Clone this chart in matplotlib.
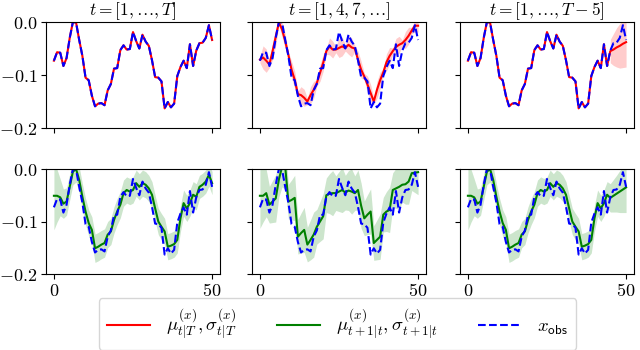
import matplotlib
matplotlib.use("Agg")
import matplotlib.pyplot as plt
from matplotlib.ticker import FuncFormatter
from matplotlib.lines import Line2D
import numpy as np

plt.rcParams['mathtext.fontset'] = 'cm'
plt.rcParams['font.family'] = ['DejaVu Serif']

# ---- data ----
t_index = list(range(51))

x_obs = [-0.073, -0.057, -0.058, -0.083, -0.068, -0.030, 0.0, -0.001, -0.034, -0.064,
         -0.105, -0.110, -0.139, -0.159, -0.154, -0.153, -0.157, -0.129, -0.117, -0.088,
         -0.087, -0.053, -0.044, -0.052, -0.051, -0.019, -0.036, -0.050, -0.024, -0.037,
         -0.045, -0.072, -0.104, -0.105, -0.112, -0.163, -0.151, -0.161, -0.154, -0.102,
         -0.085, -0.073, -0.087, -0.042, -0.083, -0.054, -0.040, -0.039, -0.030, -0.006,
         -0.034]

# smoothed mean, all observed (identical to observations)
smooth_all_mean = x_obs

# smoothed mean / std, every third step observed
smooth_sparse_mean = [-0.071, -0.067, -0.073, -0.080, -0.055, -0.028, -0.001, -0.014, -0.036, -0.062,
                      -0.090, -0.109, -0.136, -0.138, -0.143, -0.150, -0.138, -0.128, -0.115, -0.096,
                      -0.077, -0.055, -0.046, -0.052, -0.052, -0.049, -0.046, -0.049, -0.043, -0.048,
                      -0.050, -0.071, -0.090, -0.103, -0.118, -0.134, -0.150, -0.128, -0.110, -0.095,
                      -0.076, -0.064, -0.055, -0.047, -0.043, -0.040, -0.034, -0.026, -0.016, -0.007,
                      -0.007]
smooth_sparse_std = [0.006, 0.022, 0.022, 0.006, 0.016, 0.016, 0.005, 0.014, 0.014, 0.006,
                     0.016, 0.016, 0.006, 0.016, 0.016, 0.006, 0.016, 0.016, 0.006, 0.016,
                     0.016, 0.006, 0.016, 0.016, 0.006, 0.018, 0.018, 0.006, 0.018, 0.018,
                     0.006, 0.016, 0.016, 0.006, 0.016, 0.016, 0.006, 0.016, 0.016, 0.006,
                     0.016, 0.016, 0.006, 0.016, 0.016, 0.006, 0.016, 0.016, 0.006, 0.012,
                     0.012]

# smoothed mean / std, last five steps unobserved
smooth_cut_tail_index = [45, 46, 47, 48, 49, 50]
smooth_cut_tail_mean = [-0.055, -0.052, -0.048, -0.045, -0.041, -0.038]
smooth_cut_tail_std = [0.022, 0.030, 0.037, 0.042, 0.045, 0.047]

# one-step filter prediction, all observed
pred_all_mean = [-0.051, -0.051, -0.054, -0.066, -0.062, -0.034, -0.005, 0.0, -0.021, -0.053,
                 -0.081, -0.103, -0.116, -0.151, -0.148, -0.144, -0.141, -0.125, -0.119, -0.097,
                 -0.081, -0.068, -0.046, -0.040, -0.043, -0.040, -0.027, -0.034, -0.027, -0.030,
                 -0.037, -0.049, -0.075, -0.100, -0.110, -0.119, -0.148, -0.146, -0.143, -0.135,
                 -0.094, -0.065, -0.075, -0.065, -0.049, -0.053, -0.034, -0.030, -0.024, -0.011,
                 -0.027]
pred_all_std = [0.065, 0.050, 0.035, 0.028, 0.026, 0.025, 0.025, 0.025, 0.025, 0.025,
                0.025, 0.025, 0.025, 0.027, 0.027, 0.027, 0.027, 0.025, 0.025, 0.025,
                0.025, 0.025, 0.025, 0.025, 0.025, 0.025, 0.025, 0.025, 0.025, 0.025,
                0.025, 0.025, 0.025, 0.025, 0.025, 0.025, 0.025, 0.025, 0.025, 0.025,
                0.025, 0.025, 0.025, 0.025, 0.025, 0.025, 0.022, 0.022, 0.022, 0.022,
                0.022]

# one-step filter prediction, every third step observed
pred_sparse_mean = [-0.051, -0.051, -0.046, -0.068, -0.062, -0.056, -0.020, 0.004, 0.004, -0.062,
                    -0.059, -0.055, -0.129, -0.122, -0.116, -0.144, -0.135, -0.125, -0.110, -0.100,
                    -0.090, -0.050, -0.047, -0.046, -0.046, -0.043, -0.040, -0.045, -0.041, -0.043,
                    -0.046, -0.040, -0.070, -0.094, -0.087, -0.081, -0.141, -0.135, -0.129, -0.087,
                    -0.081, -0.078, -0.040, -0.037, -0.034, -0.030, -0.029, -0.024, -0.008, -0.007,
                    -0.006]
pred_sparse_std = [0.062, 0.050, 0.045, 0.035, 0.040, 0.045, 0.033, 0.038, 0.043, 0.033,
                   0.038, 0.043, 0.033, 0.038, 0.043, 0.033, 0.038, 0.043, 0.033, 0.038,
                   0.043, 0.033, 0.038, 0.043, 0.033, 0.038, 0.043, 0.033, 0.038, 0.043,
                   0.033, 0.038, 0.043, 0.033, 0.038, 0.043, 0.033, 0.038, 0.043, 0.033,
                   0.038, 0.043, 0.033, 0.038, 0.043, 0.033, 0.038, 0.043, 0.033, 0.038,
                   0.043]

# one-step filter prediction, last five steps unobserved
pred_cut_tail_mean = [-0.055, -0.051, -0.047, -0.043, -0.039, -0.035]
pred_cut_tail_std = [0.027, 0.031, 0.035, 0.040, 0.044, 0.048]

titles = [r'$t=[1,\ldots,T]$', r'$t=[1,4,7,\ldots]$', r'$t=[1,\ldots,T-5]$']
legend_labels = [r'$\mu^{(x)}_{t|T}, \sigma^{(x)}_{t|T}$',
                 r'$\mu^{(x)}_{t+1|t}, \sigma^{(x)}_{t+1|t}$',
                 r'$x_{\mathsf{obs}}$']
x_ticks = [0, 50]
y_ticks = [0.0, -0.1, -0.2]

# ---- figure ----
W, H = 640, 350
fig = plt.figure(figsize=(6.4, 3.5), dpi=100)

col_left = [46, 252, 460]
col_w = 174
rows = [(22, 128), (169, 274)]

TICK_FS = 13
TITLE_FS = 12.5
LEG_FS = 13.5


def yfmt(v, p):
    return r'$%.1f$' % (0.0 if abs(v) < 1e-9 else v)


def xfmt(v, p):
    return r'$%d$' % int(round(v))


axes = []
for r, (top, bot) in enumerate(rows):
    for c in range(3):
        ax = fig.add_axes([col_left[c] / W, 1 - bot / H, col_w / W, (bot - top) / H])
        axes.append(ax)

tt = np.array(t_index)
xo = np.array(x_obs)


def style(ax, r, c):
    ax.set_ylim(-0.2, 0.0)
    ax.set_xticks(x_ticks)
    ax.set_yticks(y_ticks)
    ax.yaxis.set_major_formatter(FuncFormatter(yfmt))
    ax.xaxis.set_major_formatter(FuncFormatter(xfmt))
    ax.tick_params(labelsize=TICK_FS, length=3.5, pad=2.5)
    if c != 0:
        ax.tick_params(labelleft=False)
    if r == 0:
        ax.tick_params(labelbottom=False)


red = 'red'
green = 'green'
blue = 'blue'
lw = 1.5

# top row
ax = axes[0]
ax.plot(tt, smooth_all_mean, color=red, lw=lw)
ax.plot(tt, xo, color=blue, ls='--', lw=lw)

ax = axes[1]
m = np.array(smooth_sparse_mean); s = np.array(smooth_sparse_std)
ax.fill_between(tt, m - s, m + s, color=red, alpha=0.2, lw=0)
ax.plot(tt, m, color=red, lw=lw)
ax.plot(tt, xo, color=blue, ls='--', lw=lw)

ax = axes[2]
ti = np.array(smooth_cut_tail_index)
m = np.array(smooth_cut_tail_mean); s = np.array(smooth_cut_tail_std)
ax.fill_between(ti, m - s, m + s, color=red, alpha=0.2, lw=0)
red_line = list(x_obs[:45]) + list(smooth_cut_tail_mean)
ax.plot(tt, red_line, color=red, lw=lw)
ax.plot(tt, xo, color=blue, ls='--', lw=lw)

# bottom row
ax = axes[3]
m = np.array(pred_all_mean); s = np.array(pred_all_std)
ax.fill_between(tt, m - s, m + s, color=green, alpha=0.2, lw=0)
ax.plot(tt, m, color=green, lw=lw)
ax.plot(tt, xo, color=blue, ls='--', lw=lw)

ax = axes[4]
m = np.array(pred_sparse_mean); s = np.array(pred_sparse_std)
ax.fill_between(tt, m - s, m + s, color=green, alpha=0.2, lw=0)
ax.plot(tt, m, color=green, lw=lw)
ax.plot(tt, xo, color=blue, ls='--', lw=lw)

ax = axes[5]
m = np.array(list(pred_all_mean[:45]) + list(pred_cut_tail_mean))
s = np.array(list(pred_all_std[:45]) + list(pred_cut_tail_std))
ax.fill_between(tt, m - s, m + s, color=green, alpha=0.2, lw=0)
ax.plot(tt, m, color=green, lw=lw)
ax.plot(tt, xo, color=blue, ls='--', lw=lw)

for i, ax in enumerate(axes):
    style(ax, i // 3, i % 3)
for c in range(3):
    axes[c].set_title(titles[c], fontsize=TITLE_FS, pad=4)

handles = [Line2D([], [], color=red, lw=lw),
           Line2D([], [], color=green, lw=lw),
           Line2D([], [], color=blue, lw=lw, ls='--')]
fig.legend(handles, legend_labels, loc='center', ncol=3,
           bbox_to_anchor=(337.5 / W, 1 - 324 / H), fontsize=LEG_FS,
           handlelength=2.3, handletextpad=0.85, columnspacing=2.15,
           borderpad=0.45, frameon=True)

fig.savefig('out.png', dpi=100)
